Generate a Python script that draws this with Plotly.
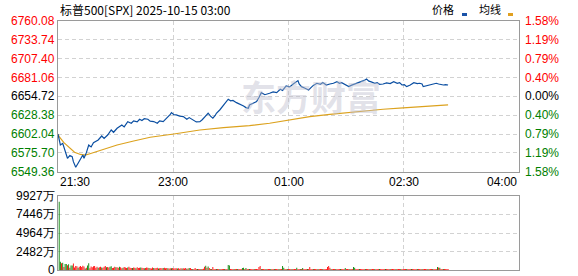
import pandas as pd
import plotly.graph_objects as go

# ---------------- data ----------------
title_text = "标普500[SPX] 2025-10-15 03:00"
legend_labels = ["价格", "均线"]
watermark_text = "东方财富"
prev_close = 6654.72
price_step = 26.34
session_start = pd.Timestamp("2025-10-14 21:30")
session_end = pd.Timestamp("2025-10-15 04:00")
x_tick_labels = ["21:30", "23:00", "01:00", "02:30", "04:00"]
x_tick_minutes = [0, 97.5, 195, 292.5, 390]
vol_tick_vals = [0, 2482, 4964, 7446, 9927]
vol_tick_text = ["0", "2482万", "4964万", "7446万", "9927万"]

price_minutes = [0, 1, 2, 4, 6, 8, 10, 12, 13, 15, 17, 19, 21, 22, 24, 26, 28, 30, 34, 37,
                 39, 42, 45, 47, 50, 54, 56, 59, 62, 64, 67, 69, 71, 73, 76, 78, 81, 84, 86, 89,
                 92, 95, 96, 98, 100, 103, 106, 109, 111, 114, 117, 120, 122, 125, 127, 129, 131, 133, 134, 137,
                 140, 142, 144, 146, 148, 151, 154, 157, 159, 161, 162, 165, 168, 170, 172, 175, 177, 179, 182, 185,
                 188, 190, 193, 196, 199, 201, 203, 204, 206, 209, 212, 214, 216, 219, 222, 224, 227, 230, 233, 236,
                 238, 240, 243, 246, 248, 251, 254, 257, 259, 261, 263, 265, 268, 270, 272, 275, 278, 281, 284, 287,
                 289, 291, 293, 295, 298, 301, 304, 306, 308, 309, 312, 314, 316, 318, 320, 322, 324, 326, 328, 330]
price_values = [6602.0, 6596.0, 6586.7, 6589.0, 6579.7, 6568.1, 6572.0, 6570.4, 6563.4, 6555.5,
                6561.2, 6566.7, 6572.7, 6568.1, 6576.0, 6586.7, 6584.0, 6590.0, 6593.7, 6599.3,
                6596.0, 6600.7, 6607.7, 6604.5, 6610.1, 6614.7, 6612.0, 6619.3, 6617.1, 6620.5,
                6619.0, 6622.7, 6621.0, 6623.5, 6622.7, 6620.0, 6619.5, 6617.1, 6620.5, 6619.3,
                6624.0, 6629.5, 6631.9, 6629.0, 6628.7, 6627.0, 6626.5, 6622.7, 6625.0, 6621.7,
                6619.0, 6619.3, 6622.0, 6627.5, 6631.1, 6627.0, 6624.1, 6628.0, 6631.1, 6636.0,
                6642.7, 6646.0, 6650.7, 6648.5, 6649.0, 6645.9, 6644.0, 6641.3, 6639.0, 6638.1,
                6642.7, 6645.0, 6647.4, 6653.0, 6659.9, 6657.0, 6658.5, 6659.1, 6661.0, 6660.0,
                6664.7, 6663.0, 6669.2, 6668.0, 6672.0, 6674.0, 6676.7, 6672.0, 6668.3, 6666.0,
                6663.7, 6667.0, 6670.0, 6673.0, 6671.5, 6674.0, 6670.6, 6672.0, 6673.0, 6675.3,
                6673.0, 6673.9, 6671.0, 6668.3, 6670.0, 6672.0, 6673.0, 6675.0, 6677.0, 6679.0,
                6676.0, 6675.0, 6673.0, 6673.9, 6671.5, 6672.0, 6673.5, 6672.5, 6675.3, 6673.0,
                6674.0, 6670.6, 6671.0, 6668.3, 6670.5, 6673.9, 6672.5, 6673.0, 6672.0, 6668.3,
                6669.5, 6670.0, 6670.6, 6672.0, 6673.0, 6672.0, 6671.0, 6670.6, 6671.0, 6670.6]

avg_minutes = [0, 1, 5, 10, 14, 19, 23, 27, 36, 50, 64, 78, 98, 120, 140, 162, 179, 196, 213,
               230, 247, 258, 275, 292, 312, 330]
avg_values = [6602.0, 6598.3, 6590.0, 6582.1, 6576.5, 6573.5, 6572.5, 6574.5, 6579.7, 6586.7,
              6592.3, 6597.5, 6602.1, 6607.7, 6611.0, 6613.7, 6617.1, 6621.7, 6626.3, 6629.6,
              6632.5, 6634.3, 6636.7, 6638.5, 6640.3, 6642.7]

# volume per minute (万), minutes 1..330; positive = up (red), negative = down (green)
volume = [
    -9160, -1100, 900, -980, 400, -800, -820, 650, -780, 300,
    -620, -600, 880, 350, 540, 500, -300, 450, 520, 400,
    560, 480, -200, 300, -620, -900, 250, 460, 380, 500,
    520, 300, 450, -300, 380, 420, -350, 300, 450, 520,
    -380, 400, 350, -450, -500, 280, 300, 420, -380, 360,
    300, -420, 380, 250, -300, 400, 330, 280, -350, 420,
    300, 260, -280, 350, 300, -250, 380, 280, 300, -320,
    300, 280, -250, 260, 350, 300, -280, 250, 200, 320,
    -260, 220, 280, 300, -200, 250, 280, 230, -260, 300,
    220, 260, -240, 200, 250, -220, 260, 200, 230, 240,
    -200, 220, 180, 250, -200, 240, 200, 260, -180, 200,
    -270, 280, 150, -140, 130, 280, 150, -140, 130, 150,
    -140, 130, 160, 420, -560, 300, -480, 260, 150, -140,
    400, 150, 130, -140, 150, 130, -150, 140, 130, 150,
    -140, 130, 150, -670, -600, 140, 130, 150, -140, 130,
    150, -140, 130, 150, 140, -270, -300, 150, -260, 140,
    130, -140, 150, 130, 140, -150, 130, 140, 150, 400,
    540, -140, 130, 150, 140, -130, 150, 140, 130, -150,
    140, 130, -150, 140, 130, 150, -140, 130, 150, -540,
    -300, 150, 130, -140, 150, 130, 140, -150, 130, 140,
    150, -300, 140, 130, -150, 140, -280, 130, 150, 140,
    -130, 150, 400, 140, 130, -150, 140, 130, 150, -140,
    130, 150, 140, -130, 150, 140, 130, 400, 540, 300,
    -140, 130, 150, 140, -130, 150, 140, 130, -150, 140,
    130, 150, -270, 140, 130, 150, -140, 130, 150, -400,
    -300, 140, 130, 150, -140, 130, 150, 140, 130, -150,
    140, 130, 150, -140, 130, 150, 140, -130, 150, 140,
    130, -150, 140, 130, 150, 140, -130, 150, 140, 130,
    -150, 140, 130, 150, 140, -130, 150, 140, 130, -150,
    140, 130, 150, 140, -130, 150, 140, 130, -150, 140,
    130, 150, 140, -130, 150, 140, 130, -150, 140, 130,
    150, 140, -130, 150, 140, 130, -150, 140, 130, 150,
    -400, 350, -300, 140, 130, -150, 140, 130, 150, 140,
]

# ---------------- styles ----------------
W, H = 578, 276
ML, MR, MT, MB = 58, 59, 21, 6
RED, GREEN, BLACK = "#ff0000", "#008000", "#000000"
BLUE_LINE, GOLD_LINE = "#0b4fa2", "#dca21e"
GRID = "#d2d2d2"
FRAME = "#9a9a9a"
NUM_FONT = "Liberation Sans, Arial, sans-serif"
CJK_FONT = "Noto Sans CJK SC, sans-serif"

plot_w = W - ML - MR
plot_h = H - MT - MB


def px_x(px):
    return (px - ML) / plot_w


def px_y(py):
    return (H - MB - py) / plot_h


def tmin(m):
    return session_start + pd.Timedelta(minutes=m)


price_x = [tmin(m) for m in price_minutes]
avg_x = [tmin(m) for m in avg_minutes]
vol_x = [tmin(i + 1) for i in range(len(volume))]
vol_h = [abs(v) for v in volume]
vol_c = [RED if v > 0 else GREEN for v in volume]

price_ticks = [prev_close + k * price_step for k in range(-4, 5)]
price_lo, price_hi = price_ticks[0], price_ticks[-1]

fig = go.Figure()

fig.add_trace(go.Scatter(x=avg_x, y=avg_values, mode="lines",
                         line=dict(color=GOLD_LINE, width=1.2), xaxis="x", yaxis="y",
                         hoverinfo="skip"))
fig.add_trace(go.Scatter(x=price_x, y=price_values, mode="lines",
                         line=dict(color=BLUE_LINE, width=1.2), xaxis="x", yaxis="y",
                         hoverinfo="skip"))
fig.add_trace(go.Bar(x=vol_x, y=vol_h, marker=dict(color=vol_c, line=dict(width=0)),
                     width=45000, xaxis="x2", yaxis="y2", hoverinfo="skip"))

main_bottom = px_y(171.7)
vol_top = px_y(196)

grid_times = [tmin(m) for m in x_tick_minutes[1:-1]]
axis_common = dict(showline=True, mirror=True, linecolor=FRAME, linewidth=1,
                   showgrid=True, gridcolor=GRID, griddash="4px,3px", gridwidth=1,
                   zeroline=False, ticks="", showticklabels=False, fixedrange=True)

fig.update_layout(
    width=W, height=H,
    margin=dict(l=ML, r=MR, t=MT, b=MB, pad=0),
    paper_bgcolor="white", plot_bgcolor="white",
    showlegend=False,
    xaxis=dict(domain=[0, 1], anchor="y", type="date",
               range=[session_start, session_end], tickvals=grid_times, **axis_common),
    yaxis=dict(domain=[main_bottom, 1], anchor="x", range=[price_lo, price_hi],
               tickvals=price_ticks, **axis_common),
    xaxis2=dict(domain=[0, 1], anchor="y2", type="date",
                range=[session_start, session_end], tickvals=grid_times, **axis_common),
    yaxis2=dict(domain=[0, vol_top], anchor="x2", range=[0, vol_tick_vals[-1]],
                tickvals=vol_tick_vals, **axis_common),
)

ann = []
# title
ann.append(dict(text=title_text, xref="paper", yref="paper", x=0, y=px_y(9),
                xanchor="left", yanchor="middle", showarrow=False,
                font=dict(family=CJK_FONT, size=12, color=BLACK)))
# legend
ann.append(dict(text=legend_labels[0], xref="paper", yref="paper", x=px_x(443), y=px_y(9),
                xanchor="center", yanchor="middle", showarrow=False,
                font=dict(family=CJK_FONT, size=11, color=BLACK)))
ann.append(dict(text=legend_labels[1], xref="paper", yref="paper", x=px_x(489.5), y=px_y(9),
                xanchor="center", yanchor="middle", showarrow=False,
                font=dict(family=CJK_FONT, size=11, color=BLACK)))
# watermark
ann.append(dict(text="<b>" + watermark_text + "</b>", xref="paper", yref="paper",
                x=px_x(311), y=px_y(96), xanchor="center", yanchor="middle", showarrow=False,
                font=dict(family=CJK_FONT, size=35, color="rgba(190,190,205,0.45)")))

# price / percent labels
for v in price_ticks:
    d = round(v - prev_close, 2)
    col = RED if d > 0 else (GREEN if d < 0 else BLACK)
    pct = abs(d) / prev_close * 100
    ann.append(dict(text=f"{v:.2f}", xref="paper", yref="y", x=0, y=v,
                    xanchor="right", yanchor="middle", xshift=-1, showarrow=False,
                    font=dict(family=NUM_FONT, size=12, color=col)))
    ann.append(dict(text=f"{pct:.2f}%", xref="paper", yref="y", x=1, y=v,
                    xanchor="left", yanchor="middle", xshift=4, showarrow=False,
                    font=dict(family=NUM_FONT, size=12, color=col)))

# volume labels
for v, t in zip(vol_tick_vals, vol_tick_text):
    ann.append(dict(text=t, xref="paper", yref="y2", x=0, y=v,
                    xanchor="right", yanchor="middle", xshift=-1, showarrow=False,
                    font=dict(family=NUM_FONT, size=12, color=BLACK)))

# time labels
n = len(x_tick_labels)
for i, (m, t) in enumerate(zip(x_tick_minutes, x_tick_labels)):
    xa = "left" if i == 0 else ("right" if i == n - 1 else "center")
    ann.append(dict(text=t, xref="x", yref="paper", x=tmin(m), y=px_y(182),
                    xanchor=xa, yanchor="middle", showarrow=False,
                    font=dict(family=NUM_FONT, size=12, color=BLACK)))

fig.update_layout(annotations=ann)

# legend colour keys
fig.add_shape(type="rect", xref="paper", yref="paper", x0=px_x(462), x1=px_x(467),
              y0=px_y(16), y1=px_y(13), fillcolor="#1a52a8", line=dict(width=0))
fig.add_shape(type="rect", xref="paper", yref="paper", x0=px_x(508), x1=px_x(513),
              y0=px_y(16), y1=px_y(13), fillcolor="#e0a020", line=dict(width=0))

fig.write_html("out.html", config={"displayModeBar": False, "staticPlot": True})
